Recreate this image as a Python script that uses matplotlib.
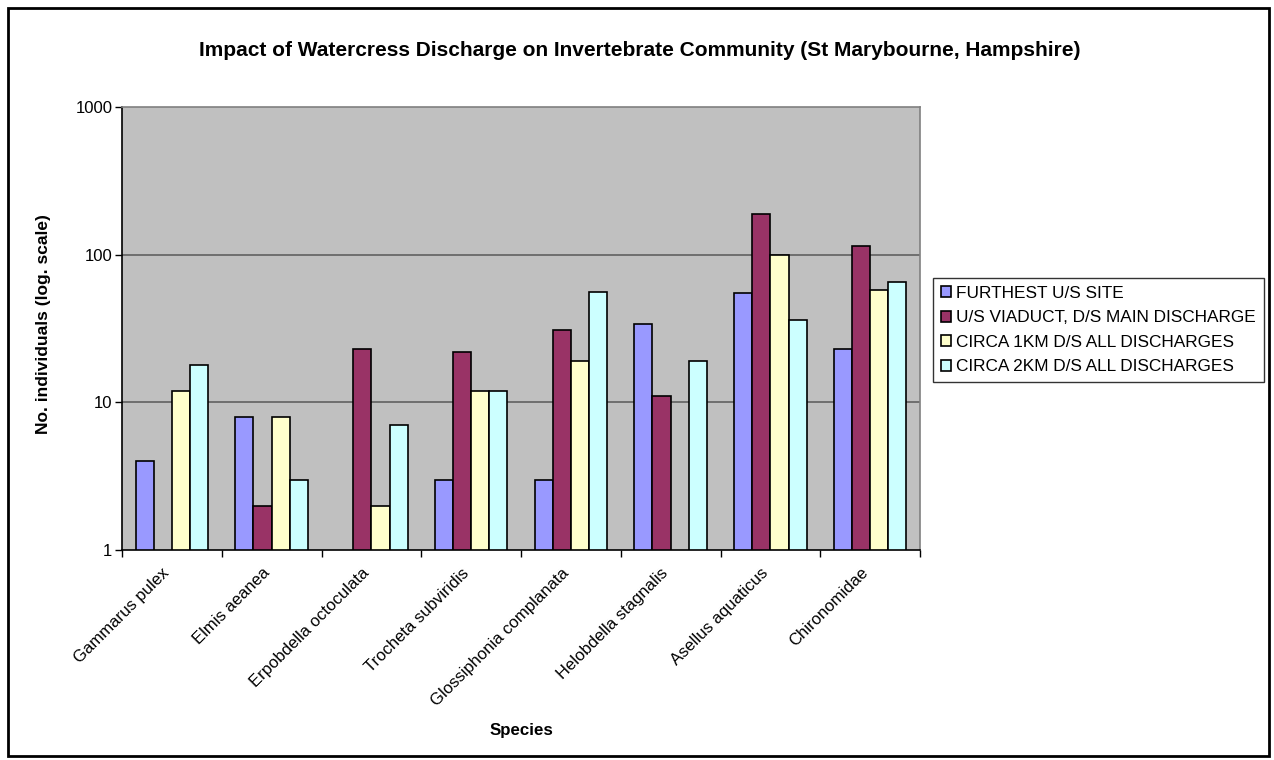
import numpy as np
import matplotlib.pyplot as plt
from matplotlib.patches import Rectangle
from matplotlib.ticker import FixedLocator, NullFormatter
from matplotlib.transforms import ScaledTranslation

plt.rcParams['font.family'] = ['Liberation Sans', 'DejaVu Sans']

species = ['Gammarus pulex', 'Elmis aeanea', 'Erpobdella octoculata',
           'Trocheta subviridis', 'Glossiphonia complanata',
           'Helobdella stagnalis', 'Asellus aquaticus', 'Chironomidae']
site_names = ['FURTHEST U/S SITE', 'U/S VIADUCT, D/S MAIN DISCHARGE',
              'CIRCA 1KM D/S ALL DISCHARGES', 'CIRCA 2KM D/S ALL DISCHARGES']
# 0 = no individuals (no bar on log scale)
furthest_us = [4, 8, 0, 3, 3, 34, 55, 23]
us_viaduct = [0, 2, 23, 22, 31, 11, 190, 114]
circa_1km = [12, 8, 2, 12, 19, 0, 100, 58]
circa_2km = [18, 3, 7, 12, 56, 19, 36, 65]
colours = ['#9999FF', '#993366', '#FFFFCC', '#CCFFFF']

series = [furthest_us, us_viaduct, circa_1km, circa_2km]

W, H = 1274, 760
fig = plt.figure(figsize=(W / 100, H / 100), dpi=100)
# chart area border
fig.patches.append(Rectangle((8 / W, 1 - 756 / H), 1261 / W, 748 / H, transform=fig.transFigure,
                             fill=False, edgecolor='black', linewidth=2))
ax = fig.add_axes([122 / W, 1 - 550 / H, 798 / W, 443 / H])
ax.set_facecolor('#C0C0C0')

x = np.arange(len(species))
w = 1 / 5.5
for i, vals in enumerate(series):
    v = np.array(vals, dtype=float)
    v[v == 0] = np.nan
    ax.bar(x + (i - 1.5) * w, v, w, bottom=0, color=colours[i], edgecolor='black',
           linewidth=1.2, label=site_names[i], zorder=3)

ax.set_yscale('log')
ax.set_ylim(1, 1000)
ax.set_xlim(-0.5, len(species) - 0.5)
ax.yaxis.set_major_locator(FixedLocator([1, 10, 100, 1000]))
ax.yaxis.set_minor_locator(FixedLocator([]))
ax.set_yticklabels(['1', '10', '100', '1000'], fontsize=12)
ax.tick_params(axis='y', direction='out', length=5, width=1, pad=2)

ax.set_xticks(x)
ax.set_xticklabels(species, rotation=45, ha='right', va='top', rotation_mode='anchor', fontsize=12)
ax.tick_params(axis='x', which='major', length=0, pad=11)
shift = ScaledTranslation(-10 / 100, 0, fig.dpi_scale_trans)
for lab in ax.get_xticklabels():
    lab.set_transform(lab.get_transform() + shift)
ax.xaxis.set_minor_locator(FixedLocator(np.arange(len(species) + 1) - 0.5))
ax.xaxis.set_minor_formatter(NullFormatter())
ax.tick_params(axis='x', which='minor', direction='out', length=5, width=1)

for yv in [10, 100]:
    ax.axhline(yv, color='#606060', linewidth=1.2, zorder=1)

ax.spines['left'].set_color('black')
ax.spines['bottom'].set_color('black')
ax.spines['top'].set_color('#808080')
ax.spines['right'].set_color('#808080')
for s in ax.spines.values():
    s.set_linewidth(1.2)
    s.set_zorder(4)

fig.text(44 / W, 1 - 324 / H, 'No. individuals (log. scale)', rotation=90,
         ha='center', va='center', fontsize=12.5, fontweight='bold')
fig.text(521 / W, 1 - 731 / H, 'Species', ha='center', va='center',
         fontsize=12.2, fontweight='bold')
fig.text(640 / W, 1 - 56 / H,
         'Impact of Watercress Discharge on Invertebrate Community (St Marybourne, Hampshire)',
         ha='center', va='baseline', fontsize=15, fontweight='bold')

leg = ax.legend(loc='upper left', bbox_to_anchor=(933 / W, 1 - 278 / H),
                bbox_transform=fig.transFigure, fontsize=12.4,
                frameon=True, fancybox=False, edgecolor='black', handlelength=0.6,
                handleheight=0.6, handletextpad=0.3, borderpad=0.45, labelspacing=0.55,
                borderaxespad=0)
leg.get_frame().set_linewidth(1.0)

fig.savefig('out.png', dpi=100)
